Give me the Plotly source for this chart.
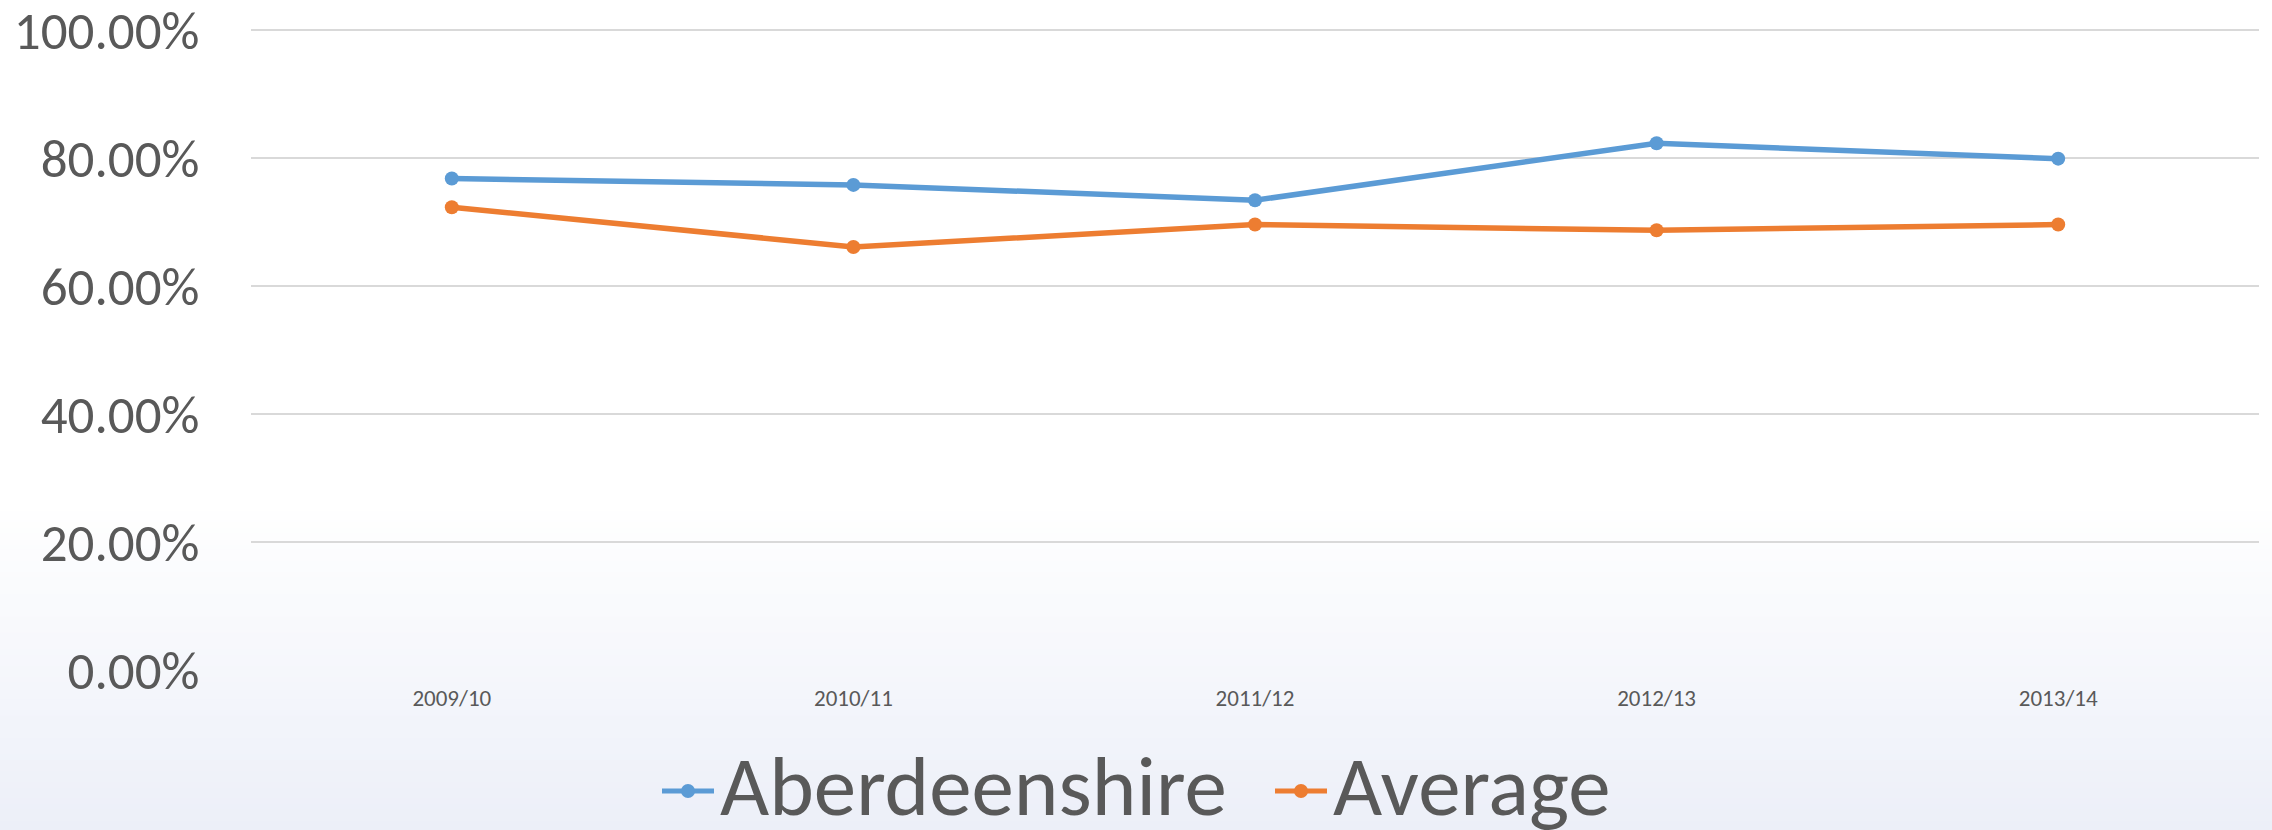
import plotly.graph_objects as go

# data
years = ["2009/10", "2010/11", "2011/12", "2012/13", "2013/14"]
aberdeenshire = [0.768, 0.758, 0.734, 0.823, 0.799]
average = [0.723, 0.661, 0.696, 0.687, 0.696]
y_ticks = [0, 0.2, 0.4, 0.6, 0.8, 1.0]
series_names = ["Aberdeenshire", "Average"]

BLUE = "#5B9BD5"
ORANGE = "#ED7D31"
TEXT = "#595959"
FONT = "Carlito, Calibri, Lato, sans-serif"

W, H = 2272, 830
EXT = 6  # px of head-room above the 100% line so its gridline is drawn
M_L, M_R, M_T, M_B = 251, 13, 30 - EXT, 160
PLOT_W = W - M_L - M_R
PLOT_H = H - M_T - M_B
Y_MAX = 1 + EXT / (PLOT_H - EXT)


def px_x(px):
    """page pixel x -> paper fraction"""
    return (px - M_L) / PLOT_W


def px_y(py):
    """page pixel y (from top) -> paper fraction"""
    return (H - M_B - py) / PLOT_H


fig = go.Figure()

for name, vals, col in [(series_names[0], aberdeenshire, BLUE),
                        (series_names[1], average, ORANGE)]:
    fig.add_trace(go.Scatter(
        x=years, y=vals, name=name,
        mode="lines+markers",
        line=dict(color=col, width=5.5),
        marker=dict(color=col, size=14),
        showlegend=False,
    ))

# ── soft white -> pale blue-grey gradient at the bottom of the page ──────────
grad_top, grad_bot = 500, H + 2
steps = 60
c0, c1 = (255, 255, 255), (236, 239, 248)
for k in range(steps):
    t = (k + 0.5) / steps
    ya = grad_top + (grad_bot - grad_top) * k / steps
    yb = grad_top + (grad_bot - grad_top) * (k + 1) / steps
    col = tuple(round(a + (b - a) * t) for a, b in zip(c0, c1))
    fig.add_shape(
        type="rect", xref="paper", yref="paper",
        x0=px_x(-10), x1=px_x(W + 10),
        y0=px_y(yb + 1), y1=px_y(ya),
        fillcolor=f"rgb{col}", line=dict(width=0), layer="below",
    )

# ── legend drawn in page space (a real legend would push the margins) ───────
leg_y = 791
leg_items = [(series_names[0], BLUE, 662), (series_names[1], ORANGE, 1275)]
for name, col, x0 in leg_items:
    fig.add_shape(type="line", xref="paper", yref="paper",
                  x0=px_x(x0), x1=px_x(x0 + 52), y0=px_y(leg_y), y1=px_y(leg_y),
                  line=dict(color=col, width=5))
    fig.add_shape(type="circle", xref="paper", yref="paper",
                  x0=px_x(x0 + 26 - 7), x1=px_x(x0 + 26 + 7),
                  y0=px_y(leg_y + 7), y1=px_y(leg_y - 7),
                  fillcolor=col, line=dict(width=0))
    fig.add_annotation(text=name, xref="paper", yref="paper",
                       x=px_x(x0 + 56), y=px_y(leg_y - 5),
                       xanchor="left", yanchor="middle", showarrow=False,
                       font=dict(size=85, color=TEXT, family=FONT))

fig.update_layout(
    width=W, height=H,
    margin=dict(l=M_L, r=M_R, t=M_T, b=M_B, autoexpand=False),
    paper_bgcolor="white",
    plot_bgcolor="rgba(0,0,0,0)",
    font=dict(family=FONT, color=TEXT),
    showlegend=False,
    xaxis=dict(
        type="category",
        range=[-0.5, 4.5],
        showgrid=False, zeroline=False, showline=False,
        ticks="outside", ticklen=7, tickcolor="rgba(0,0,0,0)",
        tickfont=dict(size=23, color=TEXT),
        automargin=False,
    ),
    yaxis=dict(
        range=[0, Y_MAX],
        tickvals=y_ticks,
        tickformat=".2%",
        showgrid=True, gridcolor="#D9D9D9", gridwidth=2,
        zeroline=False, showline=False,
        ticks="outside", ticklen=40, tickcolor="rgba(0,0,0,0)",
        tickfont=dict(size=53, color=TEXT),
        ticklabeloverflow="allow",
        automargin=False,
    ),
)

fig.write_html("out.html", config={"displayModeBar": False},
               post_script="document.body.style.margin='0';")
